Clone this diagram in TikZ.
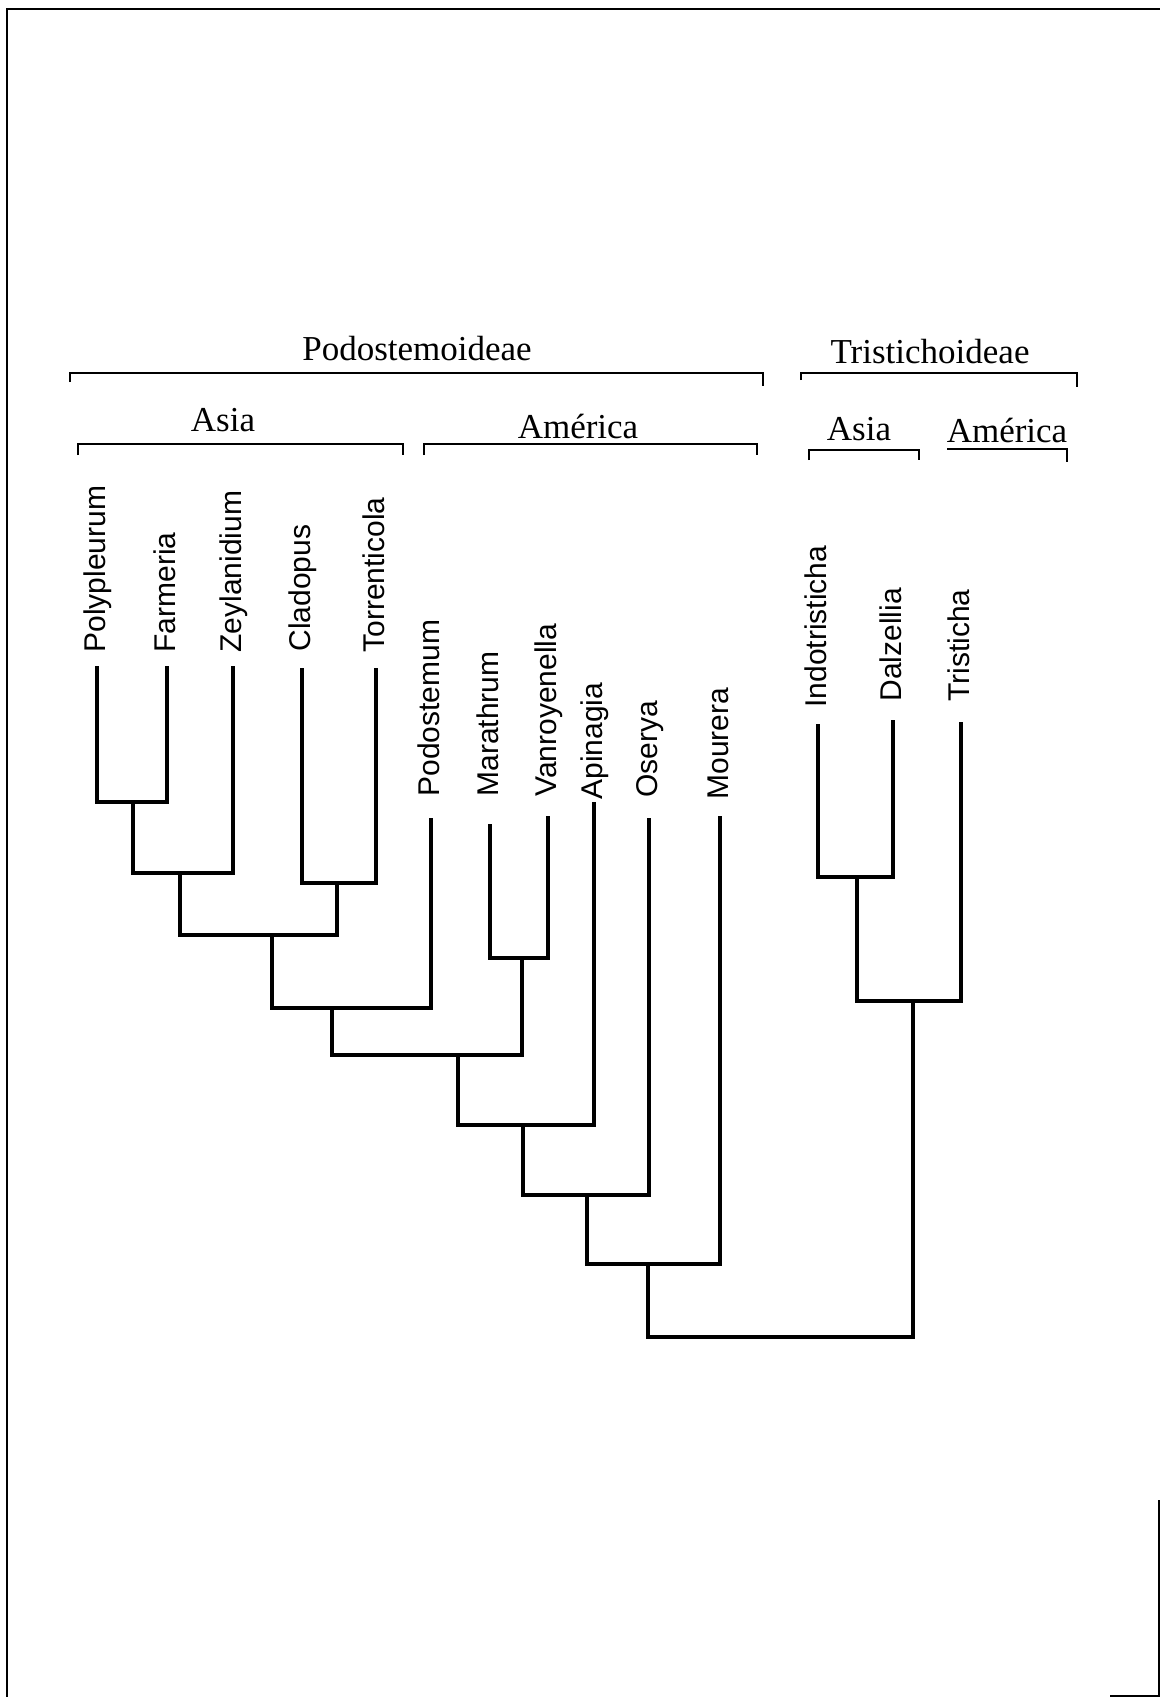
\documentclass[tikz,border=0pt]{standalone}
\usepackage{fontspec}
\setmainfont{Liberation Serif}
\setsansfont{Liberation Sans}
\usepackage{tikz}
\tikzstyle{taxon} = [rotate=90, anchor=west, inner sep=0pt, text height=11pt, text depth=3pt, font=\sffamily\fontsize{15}{15}\selectfont]
\tikzstyle{group} = [anchor=base, inner sep=0pt, font=\fontsize{17.5}{21}\selectfont]
\tikzstyle{branch} = [line width=1.7pt, line join=miter, line cap=rect]
\tikzstyle{bracket} = [line width=0.9pt]
\tikzstyle{frame} = [line width=1pt]

\begin{document}
\begin{tikzpicture}[x=0.5pt, y=-0.5pt]
\path[fill=white, use as bounding box] (0,0) rectangle (1160,1697);
\draw[frame] (7,1697) |- (1160,9);
\draw[frame] (1110,1696) -| (1159,1500);

\node (Podostemoideae) [group] at (417,360) {Podostemoideae};
\node (Tristichoideae) [group] at (930,363) {Tristichoideae};
\node (AsiaP) [group] at (223,431) {Asia};
\node (AmericaP) [group] at (578,438) {América};
\node (AsiaT) [group] at (859,440) {Asia};
\node (AmericaT) [group] at (1007,442) {América};

\coordinate (podoL) at (70,382);
\coordinate (podoR) at (763,386);
\coordinate (tristL) at (801,380);
\coordinate (tristR) at (1077,387);
\coordinate (asiaPL) at (78,455);
\coordinate (asiaPR) at (403,455);
\coordinate (amPL) at (424,455);
\coordinate (amPR) at (757,455);
\coordinate (asiaTL) at (809,460);
\coordinate (asiaTR) at (919,460);
\coordinate (amTL) at (947,449);
\coordinate (amTR) at (1067,462);
\draw[bracket] (podoL) -- ++(0,-9) -| (podoR);
\draw[bracket] (tristL) -- ++(0,-7) -| (tristR);
\draw[bracket] (asiaPL) -- ++(0,-11) -| (asiaPR);
\draw[bracket] (amPL) -- ++(0,-11) -| (amPR);
\draw[bracket] (asiaTL) -- ++(0,-10) -| (asiaTR);
\draw[bracket] (amTL) -| (amTR);

\node (Polypleurum) [taxon] at (97,653) {Polypleurum};
\node (Farmeria) [taxon] at (167,653) {Farmeria};
\node (Zeylanidium) [taxon] at (233,653) {Zeylanidium};
\node (Cladopus) [taxon] at (302,652) {Cladopus};
\node (Torrenticola) [taxon] at (376,653) {Torrenticola};
\node (Podostemum) [taxon] at (431,797) {Podostemum};
\node (Marathrum) [taxon] at (490,797) {Marathrum};
\node (Vanroyenella) [taxon] at (548,797) {Vanroyenella};
\node (Apinagia) [taxon] at (594,800) {Apinagia};
\node (Oserya) [taxon] at (649,798) {Oserya};
\node (Mourera) [taxon] at (720,800) {Mourera};
\node (Indotristicha) [taxon] at (818,708) {Indotristicha};
\node (Dalzellia) [taxon] at (893,702) {Dalzellia};
\node (Tristicha) [taxon] at (961,702) {Tristicha};

\coordinate (tPoly) at (97,668);
\coordinate (tFarm) at (167,668);
\coordinate (tZeyl) at (233,668);
\coordinate (tClad) at (302,670);
\coordinate (tTorr) at (376,670);
\coordinate (tPodo) at (431,820);
\coordinate (tMara) at (490,826);
\coordinate (tVanr) at (548,818);
\coordinate (tApin) at (594,804);
\coordinate (tOser) at (649,820);
\coordinate (tMour) at (720,818);
\coordinate (tIndo) at (818,726);
\coordinate (tDalz) at (893,722);
\coordinate (tTris) at (961,724);

\coordinate (n1) at (133,802);
\coordinate (n2) at (180,873);
\coordinate (n3) at (337,883);
\coordinate (n4) at (272,935);
\coordinate (n5) at (332,1008);
\coordinate (n6) at (522,958);
\coordinate (n7) at (458,1055);
\coordinate (n8) at (523,1125);
\coordinate (n9) at (587,1195);
\coordinate (n10) at (648,1264);
\coordinate (t1) at (857,877);
\coordinate (t2) at (913,1001);
\coordinate (root) at (780,1337);

\draw[branch] (tPoly) |- (n1) -| (tFarm);
\draw[branch] (n1) |- (n2) -| (tZeyl);
\draw[branch] (tClad) |- (n3) -| (tTorr);
\draw[branch] (n2) |- (n4) -| (n3);
\draw[branch] (n4) |- (n5) -| (tPodo);
\draw[branch] (tMara) |- (n6) -| (tVanr);
\draw[branch] (n5) |- (n7) -| (n6);
\draw[branch] (n7) |- (n8) -| (tApin);
\draw[branch] (n8) |- (n9) -| (tOser);
\draw[branch] (n9) |- (n10) -| (tMour);
\draw[branch] (tIndo) |- (t1) -| (tDalz);
\draw[branch] (t1) |- (t2) -| (tTris);
\draw[branch] (n10) |- (root) -| (t2);
\end{tikzpicture}
\end{document}
